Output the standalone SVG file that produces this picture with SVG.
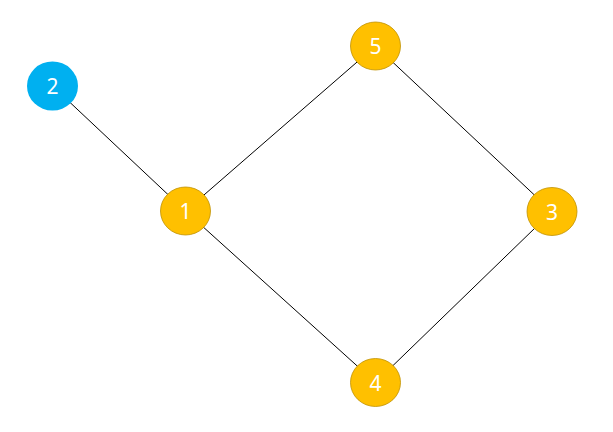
<svg xmlns="http://www.w3.org/2000/svg" width="613" height="432" viewBox="0 0 613 432">
<style>
.edge{stroke:#000;stroke-width:1;fill:none}
.y{fill:#FFC000;stroke:#BF9000;stroke-width:0.8}
.b{fill:#00B0F0;stroke:none}
.t{fill:#fff;font-family:"Noto Sans","Liberation Sans",sans-serif;font-size:21px;text-anchor:middle;dominant-baseline:central}
</style>
<rect width="613" height="432" fill="#fff"/>
<g id="edges">
<line class="edge" x1="52.5" y1="86" x2="185.5" y2="211"/>
<line class="edge" x1="185.5" y1="211" x2="375.5" y2="46"/>
<line class="edge" x1="185.5" y1="211" x2="375.5" y2="382.5"/>
<line class="edge" x1="375.5" y1="46" x2="552" y2="211.5"/>
<line class="edge" x1="375.5" y1="382.5" x2="552" y2="211.5"/>
</g>
<g id="node2"><ellipse class="b" cx="52.5" cy="86" rx="25.5" ry="24.5"/><text class="t" x="52.5" y="86">2</text></g>
<g id="node1"><ellipse class="y" cx="185.5" cy="211" rx="25" ry="24"/><text class="t" x="185.5" y="211">1</text></g>
<g id="node5"><ellipse class="y" cx="375.5" cy="46" rx="25" ry="24"/><text class="t" x="375.5" y="46">5</text></g>
<g id="node3"><ellipse class="y" cx="552" cy="211.5" rx="25" ry="24"/><text class="t" x="552" y="211.5">3</text></g>
<g id="node4"><ellipse class="y" cx="375.5" cy="382.5" rx="25" ry="24"/><text class="t" x="375.5" y="382.5">4</text></g>
</svg>
